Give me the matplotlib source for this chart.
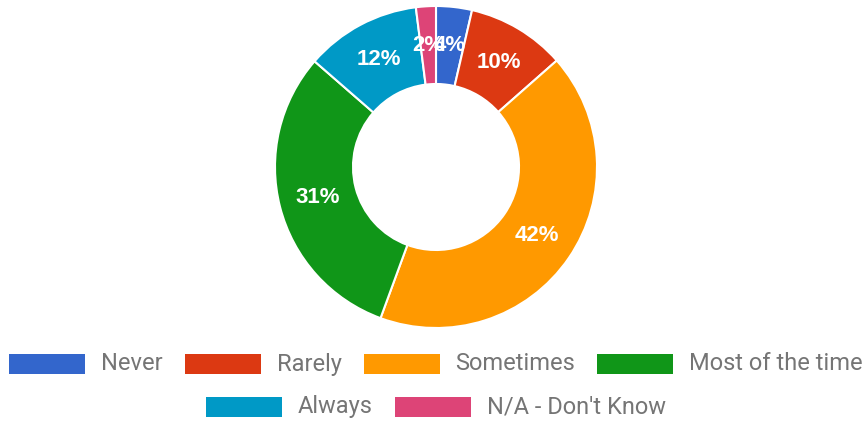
import matplotlib
matplotlib.use("Agg")
import numpy as np
import matplotlib.pyplot as plt
from matplotlib.patches import Rectangle

categories = ["Never", "Rarely", "Sometimes", "Most of the time", "Always", "N/A - Don't Know"]
shares = [3.6, 9.9, 42.1, 30.8, 11.6, 2.0]
colors = ["#3366cc", "#dc3912", "#ff9900", "#109618", "#0099c6", "#dd4477"]
legend_rows = [[0, 1, 2, 3], [4, 5]]

W, H = 866, 422
plt.rcParams['font.family'] = ['Roboto', 'DejaVu Sans']

fig = plt.figure(figsize=(W / 100, H / 100), dpi=100)
ax = fig.add_axes([0, 0, 1, 1])

# donut, pixel coordinates with y going up
cx, cy = 436, H - 167
r_out, r_in = 161, 83
wedges, _ = ax.pie(shares, colors=colors, startangle=90, counterclock=False,
                   radius=r_out, center=(cx, cy), frame=True,
                   wedgeprops=dict(width=r_out - r_in, edgecolor="white", linewidth=1.5))
ax.set_xlim(0, W)
ax.set_ylim(0, H)
ax.axis("off")

r_mid = (r_out + r_in) / 2
for w, s in zip(wedges, shares):
    ang = np.deg2rad((w.theta1 + w.theta2) / 2)
    ax.text(cx + r_mid * np.cos(ang), cy + r_mid * np.sin(ang), "%d%%" % round(s),
            color="white", fontsize=16, fontweight="bold", family=["Liberation Sans", "DejaVu Sans"],
            ha="center", va="center")

# legend drawn by hand, rows centred
fig.canvas.draw()
renderer = fig.canvas.get_renderer()
rect_w, rect_h, gap_txt, gap_item = 76, 20, 16, 22
row_y = [H - 364, H - 407]
for row, y in zip(legend_rows, row_y):
    texts = []
    total = 0
    for i in row:
        t = ax.text(0, y, categories[i], fontsize=17, color="#757575", va="center", ha="left")
        tw = t.get_window_extent(renderer).width
        texts.append((t, tw))
        total += rect_w + gap_txt + tw
    total += gap_item * (len(row) - 1)
    x = cx - total / 2
    for i, (t, tw) in zip(row, texts):
        ax.add_patch(Rectangle((x, y - rect_h / 2), rect_w, rect_h, facecolor=colors[i],
                               edgecolor="none"))
        t.set_x(x + rect_w + gap_txt)
        x += rect_w + gap_txt + tw + gap_item

fig.savefig("out.png", dpi=100)
